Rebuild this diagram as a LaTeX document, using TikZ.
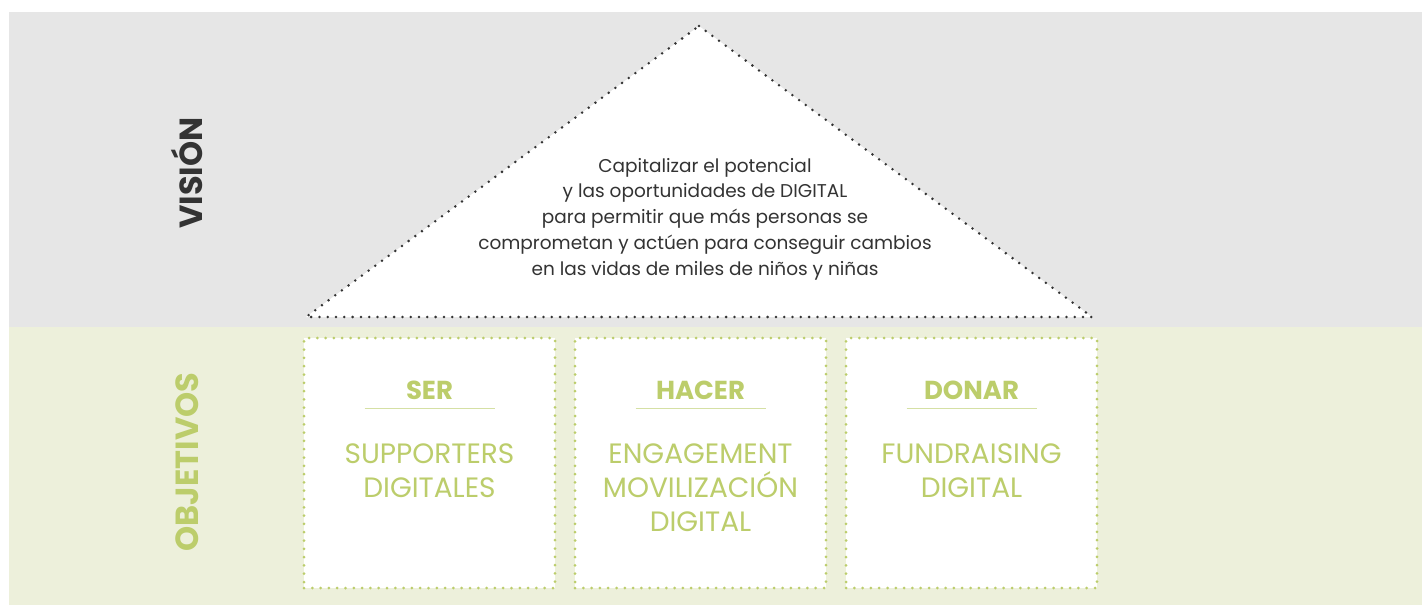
\documentclass[tikz,border=0pt]{standalone}
\usepackage{fontspec}
\setmainfont{Poppins}
\definecolor{bandgray}{HTML}{E6E6E6}
\definecolor{bandgreen}{HTML}{EDF0DB}
\definecolor{leaf}{HTML}{BCCD6B}
\definecolor{leaflight}{HTML}{D5E0A4}
\definecolor{ink}{HTML}{333333}
\begin{document}
\begin{tikzpicture}[x=1pt,y=-1pt,
  dots/.style={line width=3pt,line cap=round,dash pattern=on 0pt off 8.3pt},
  objbox/.style={draw=leaf,fill=white,dots,minimum width=251pt,minimum height=250pt,inner sep=0pt},
  sidelabel/.style={rotate=90,font=\fontsize{32}{34}\selectfont\bfseries},
  objtitle/.style={font=\fontsize{26}{28}\selectfont\bfseries,text=leaf},
  objtext/.style={font=\fontsize{28}{34}\selectfont,text=leaf,align=center,anchor=north},
  rule/.style={draw=leaflight,line width=1.5pt}]
\useasboundingbox (0,0) rectangle (1422,605);
% background bands
\fill[bandgray] (9,12) rectangle (1422,327);
\fill[bandgreen] (9,327) rectangle (1422,605);
% side labels
\node[sidelabel,text=ink] (vision) at (187,173) {VISIÓN};
\node[sidelabel,text=leaf] (objetivos) at (187,462) {OBJETIVOS};
% roof triangle
\coordinate (apex) at (699,26);
\coordinate (baseL) at (306,317);
\coordinate (baseR) at (1092,317);
\fill[white] (apex) -- (baseR) -- (baseL) -- cycle;
\draw[dots,draw=ink,line width=2.8pt] (apex) -- (baseR) -- (baseL) -- cycle;
\node[font=\fontsize{18.5}{25.8}\selectfont,text=ink,align=center] (mission) at (705,219)
  {Capitalizar el potencial\\y las oportunidades de DIGITAL\\para permitir que más personas se\\comprometan y actúen para conseguir cambios\\en las vidas de miles de niños y niñas};
% objective boxes
\node[objbox] (ser) at (429.5,463) {};
\node[objbox] (hacer) at (700.5,463) {};
\node[objbox] (donar) at (971.5,463) {};
\foreach \b/\t/\body in {ser/SER/{SUPPORTERS\\DIGITALES},hacer/HACER/{ENGAGEMENT\\MOVILIZACIÓN\\DIGITAL},donar/DONAR/{FUNDRAISING\\DIGITAL}}{
  \node[objtitle] (\b-title) at ([yshift=-54pt]\b.north) {\t};
  \draw[rule] ([xshift=-65pt,yshift=-72pt]\b.north) -- ([xshift=65pt,yshift=-72pt]\b.north);
  \node[objtext] (\b-text) at ([yshift=-104pt]\b.north) {\body};
}
\end{tikzpicture}
\end{document}
